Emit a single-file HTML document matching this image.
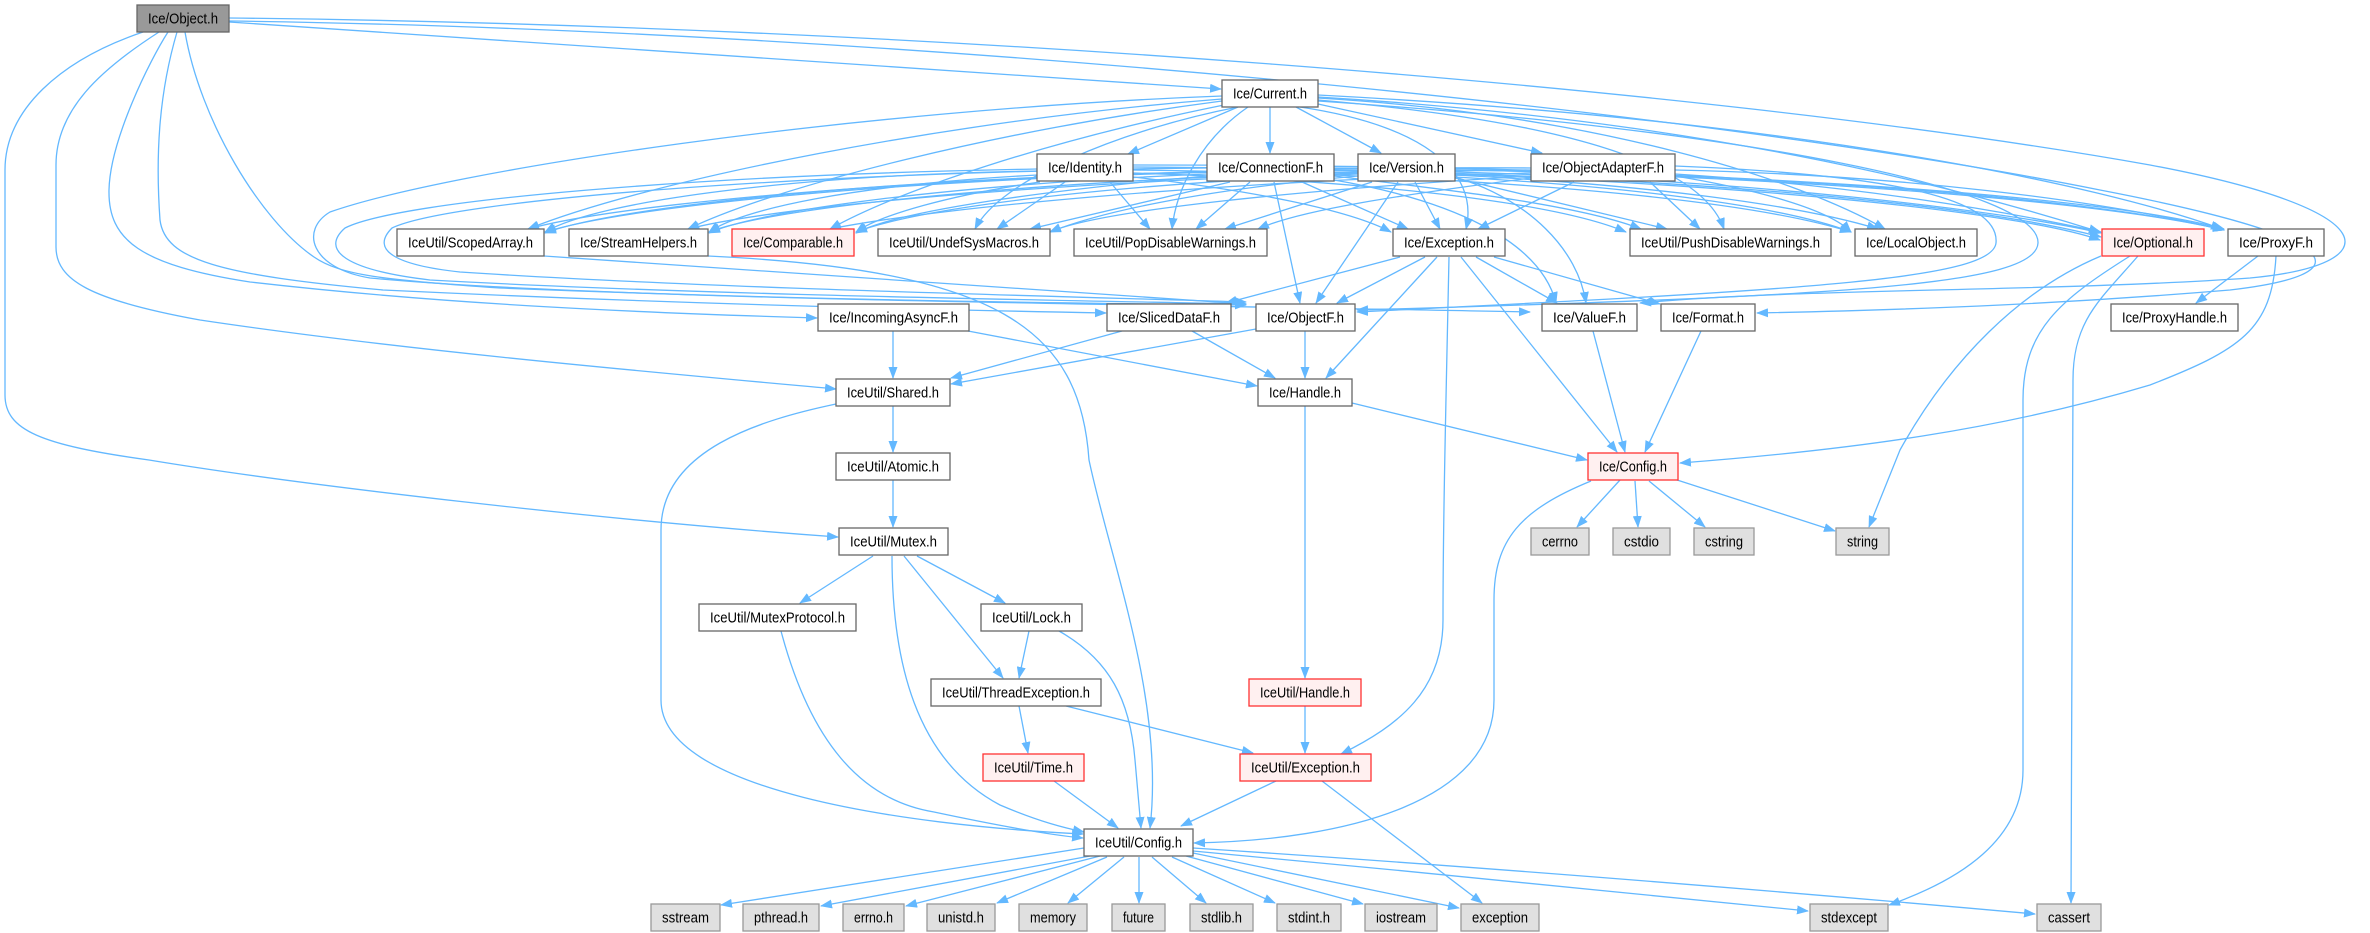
<!DOCTYPE html>
<html><head><meta charset="utf-8"><style>
html,body{margin:0;padding:0;background:#fff;}
svg{display:block;}
text{font-family:"Liberation Sans",Arial,sans-serif;font-size:14.5px;fill:#000;}
</style></head><body>
<svg width="2370" height="933" viewBox="0 0 2370 933" xmlns="http://www.w3.org/2000/svg">
<defs>
<marker id="a" markerWidth="12" markerHeight="9" refX="11" refY="4.5" orient="auto" markerUnits="userSpaceOnUse"><path d="M0,0 L12,4.5 L0,9 z" fill="#63b8ff"/></marker>
</defs>
<g fill="none" stroke="#63b8ff" stroke-width="1.3" marker-end="url(#a)">
<!-- Object.h -->
<path d="M229,22 L1221,89"/>
<path d="M229,18 C900,25 1700,85 2150,165 C2390,210 2390,265 2250,278 C2050,292 1800,288 1640,303"/>
<path d="M229,21 C900,30 1700,110 2100,190 C2360,240 2360,275 2230,290 C2050,305 1900,310 1757,313"/>
<path d="M143,32 C60,60 5,110 5,170 L5,395 C5,430 40,445 149,460 C300,485 600,520 838,537"/>
<path d="M159,32 C100,70 56,110 56,165 L56,247 C56,280 90,300 200,320 C400,350 650,372 836,389"/>
<path d="M168,32 C150,60 110,140 109,190 C108,240 140,265 250,282 C450,305 650,313 817,318"/>
<path d="M177,32 C160,90 155,150 160,220 C165,260 220,275 383,290 C700,305 950,310 1106,313"/>
<path d="M185,32 C200,120 260,220 314,257 C340,275 383,280 500,288 C800,300 1050,303 1246,305"/>
<!-- loops -->
<path d="M1222,96 C850,110 450,170 330,212 C300,230 310,268 370,278 C600,300 1200,305 1530,312"/>
<path d="M1037,169 C700,175 400,200 345,228 C320,250 345,270 430,280 C700,295 1050,300 1246,304"/>
<path d="M1207,168 C800,172 450,200 392,228 C370,250 395,265 460,272 C700,288 1050,296 1246,302"/>
<path d="M1675,166 C1900,175 2000,200 1996,243 C1992,280 1800,290 1357,312"/>
<path d="M1318,101 C1750,130 2040,190 2038,243 C2036,285 1850,296 1357,310"/>
<!-- Current.h -->
<path d="M1222,99 C950,120 650,180 528,229"/>
<path d="M1222,101 C1000,130 780,185 688,229"/>
<path d="M1224,105 C1050,140 900,190 830,229"/>
<path d="M1238,107 C1120,130 1000,180 975,229"/>
<path d="M1248,107 C1200,140 1176,190 1172,229"/>
<path d="M1238,107 L1128,154"/>
<path d="M1270,107 L1270,153"/>
<path d="M1296,107 L1381,153"/>
<path d="M1318,104 L1542,153"/>
<path d="M1300,107 C1420,125 1480,170 1466,229"/>
<path d="M1318,100 C1550,120 1700,160 1724,229"/>
<path d="M1318,98 C1600,115 1800,180 1885,229"/>
<path d="M1318,97 C1700,120 1950,185 2100,232"/>
<path d="M1318,95 C1800,120 2100,185 2222,229"/>
<!-- Identity.h -->
<path d="M1037,171 C800,175 600,200 545,232"/>
<path d="M1037,175 C850,185 740,210 709,232"/>
<path d="M1040,182 C950,195 880,215 856,232"/>
<path d="M1065,182 L997,229"/>
<path d="M1110,182 L1150,229"/>
<path d="M1133,177 C1250,190 1350,210 1391,232"/>
<path d="M1133,173 C1350,180 1550,200 1626,232"/>
<path d="M1133,170 C1500,175 1750,200 1851,232"/>
<path d="M1133,167 C1600,170 2000,205 2100,240"/>
<path d="M1133,165 C1700,165 2100,195 2224,229"/>
<!-- ConnectionF.h -->
<path d="M1207,172 C900,178 620,205 545,233"/>
<path d="M1207,174 C950,185 760,210 709,233"/>
<path d="M1207,176 C1050,190 900,210 856,233"/>
<path d="M1230,182 L1030,229"/>
<path d="M1250,182 L1196,229"/>
<path d="M1302,182 L1408,229"/>
<path d="M1274,182 L1300,303"/>
<path d="M1334,180 C1450,200 1540,240 1556,303"/>
<path d="M1334,176 C1450,190 1580,205 1641,229"/>
<path d="M1334,172 C1600,180 1780,205 1851,232"/>
<path d="M1334,170 C1700,178 1980,205 2101,237"/>
<path d="M1334,168 C1750,172 2100,200 2224,230"/>
<!-- Version.h -->
<path d="M1358,170 C1000,172 650,200 545,232"/>
<path d="M1358,172 C1050,180 780,205 709,232"/>
<path d="M1358,174 C1100,185 920,208 856,232"/>
<path d="M1358,176 C1200,190 1100,212 1050,232"/>
<path d="M1372,182 L1225,229"/>
<path d="M1415,182 L1440,229"/>
<path d="M1398,182 L1316,303"/>
<path d="M1455,177 C1530,200 1578,250 1586,303"/>
<path d="M1455,178 L1667,229"/>
<path d="M1455,175 C1650,185 1800,205 1878,229"/>
<path d="M1455,172 C1750,180 2000,210 2101,233"/>
<path d="M1455,170 C1800,175 2100,200 2224,230"/>
<!-- ObjectAdapterF.h -->
<path d="M1531,168 C1100,165 650,195 528,229"/>
<path d="M1531,170 C1200,172 800,200 688,229"/>
<path d="M1531,173 C1250,180 950,205 830,229"/>
<path d="M1531,176 C1300,190 1100,210 1050,232"/>
<path d="M1531,178 C1400,195 1300,210 1258,229"/>
<path d="M1574,182 L1478,229"/>
<path d="M1650,182 L1700,229"/>
<path d="M1675,176 C1760,190 1830,210 1851,232"/>
<path d="M1675,174 C1850,185 2000,210 2101,232"/>
<path d="M1675,170 C1900,175 2100,200 2224,230"/>
<!-- Exception.h -->
<path d="M1400,257 L1226,303"/>
<path d="M1425,257 L1337,303"/>
<path d="M1437,257 L1326,378"/>
<path d="M1476,257 L1557,303"/>
<path d="M1494,257 L1660,304"/>
<path d="M1461,257 L1617,452"/>
<path d="M1449,257 C1446,400 1443,520 1443,620 C1443,690 1400,725 1341,754"/>
<!-- misc -->
<path d="M544,256 C800,272 1050,292 1246,304"/>
<path d="M708,256 C1000,270 1080,330 1089,460 C1110,560 1165,700 1150,828"/>
<path d="M893,331 L893,378"/>
<path d="M968,331 L1257,386"/>
<path d="M1122,331 L951,378"/>
<path d="M1192,331 L1275,378"/>
<path d="M1256,329 L951,384"/>
<path d="M1305,331 L1305,378"/>
<path d="M1593,331 L1625,452"/>
<path d="M1701,331 L1645,452"/>
<path d="M2258,256 L2196,303"/>
<path d="M2276,256 C2272,330 2240,350 2150,385 C2000,430 1850,450 1680,463"/>
<path d="M2101,256 C2020,290 1950,360 1900,450 L1869,527"/>
<path d="M2130,256 C2060,300 2023,330 2023,400 L2023,770 C2023,840 1960,880 1889,905"/>
<path d="M2138,256 C2100,300 2073,320 2073,380 L2071,903"/>
<path d="M1352,403 L1587,460"/>
<path d="M1305,405 L1305,678"/>
<path d="M893,405 L893,452"/>
<path d="M836,404 C760,420 661,450 661,530 L661,700 C661,790 900,825 1083,834"/>
<path d="M893,480 L893,527"/>
<path d="M1620,480 L1577,527"/>
<path d="M1635,481 L1638,527"/>
<path d="M1649,481 L1705,527"/>
<path d="M1674,479 L1835,531"/>
<path d="M1591,481 C1520,510 1494,540 1494,600 L1494,700 C1494,800 1350,840 1194,843"/>
<path d="M873,556 L800,603"/>
<path d="M917,556 L1005,603"/>
<path d="M904,556 L1003,678"/>
<path d="M892,556 C892,660 915,760 1000,805 C1040,822 1065,828 1084,832"/>
<path d="M781,631 C810,740 860,800 934,812 C1000,826 1050,835 1083,838"/>
<path d="M1029,631 L1019,678"/>
<path d="M1059,631 C1110,660 1130,700 1135,760 L1141,828"/>
<path d="M1019,706 L1028,753"/>
<path d="M1066,706 L1253,753"/>
<path d="M1054,781 L1118,828"/>
<path d="M1305,706 L1305,753"/>
<path d="M1276,781 L1181,826"/>
<path d="M1322,781 L1482,903"/>
<path d="M1084,848 L721,905"/>
<path d="M1090,856 L821,906"/>
<path d="M1100,856 L906,906"/>
<path d="M1107,857 L997,903"/>
<path d="M1124,857 L1068,903"/>
<path d="M1139,857 L1139,903"/>
<path d="M1152,857 L1206,903"/>
<path d="M1172,857 L1275,903"/>
<path d="M1186,856 L1363,904"/>
<path d="M1193,853 L1459,908"/>
<path d="M1193,851 C1400,870 1650,895 1808,911"/>
<path d="M1193,848 C1500,868 1800,893 2035,914"/>
</g>
<!-- nodes -->
<g stroke-width="1.3">
<rect x="137" y="5" width="92" height="27" fill="#999999" stroke="#666666"/>
<g fill="#ffffff" stroke="#666666">
<rect x="1222" y="80" width="96" height="27"/>
<rect x="1037" y="154" width="96" height="27"/>
<rect x="1207" y="154" width="127" height="27"/>
<rect x="1358" y="154" width="97" height="27"/>
<rect x="1531" y="154" width="144" height="27"/>
<rect x="397" y="229" width="147" height="27"/>
<rect x="569" y="229" width="139" height="27"/>
<rect x="878" y="229" width="172" height="27"/>
<rect x="1074" y="229" width="193" height="27"/>
<rect x="1393" y="229" width="112" height="27"/>
<rect x="1630" y="229" width="201" height="27"/>
<rect x="1855" y="229" width="122" height="27"/>
<rect x="2228" y="229" width="96" height="27"/>
<rect x="818" y="304" width="151" height="27"/>
<rect x="1107" y="304" width="124" height="27"/>
<rect x="1256" y="304" width="99" height="27"/>
<rect x="1542" y="304" width="95" height="27"/>
<rect x="1661" y="304" width="94" height="27"/>
<rect x="2111" y="304" width="127" height="27"/>
<rect x="836" y="379" width="114" height="27"/>
<rect x="1258" y="379" width="94" height="27"/>
<rect x="836" y="453" width="114" height="27"/>
<rect x="839" y="528" width="109" height="27"/>
<rect x="699" y="604" width="157" height="27"/>
<rect x="981" y="604" width="101" height="27"/>
<rect x="931" y="679" width="170" height="27"/>
<rect x="1084" y="829" width="109" height="27"/>
</g>
<g fill="#fff0f0" stroke="#ff3333">
<rect x="732" y="229" width="122" height="27"/>
<rect x="2102" y="229" width="102" height="27"/>
<rect x="1588" y="453" width="90" height="27"/>
<rect x="1249" y="679" width="112" height="27"/>
<rect x="983" y="754" width="101" height="27"/>
<rect x="1240" y="754" width="131" height="27"/>
</g>
<g fill="#e0e0e0" stroke="#999999">
<rect x="1531" y="528" width="58" height="27"/>
<rect x="1613" y="528" width="57" height="27"/>
<rect x="1694" y="528" width="60" height="27"/>
<rect x="1836" y="528" width="53" height="27"/>
<rect x="651" y="904" width="69" height="27"/>
<rect x="743" y="904" width="76" height="27"/>
<rect x="843" y="904" width="61" height="27"/>
<rect x="927" y="904" width="68" height="27"/>
<rect x="1019" y="904" width="68" height="27"/>
<rect x="1112" y="904" width="53" height="27"/>
<rect x="1190" y="904" width="63" height="27"/>
<rect x="1277" y="904" width="64" height="27"/>
<rect x="1365" y="904" width="72" height="27"/>
<rect x="1461" y="904" width="78" height="27"/>
<rect x="1810" y="904" width="78" height="27"/>
<rect x="2037" y="904" width="64" height="27"/>
</g>
</g>
<g text-anchor="middle">
<text x="183" y="23.5" textLength="70" lengthAdjust="spacingAndGlyphs">Ice/Object.h</text>
<text x="1270" y="98.5" textLength="74" lengthAdjust="spacingAndGlyphs">Ice/Current.h</text>
<text x="1085" y="172.5" textLength="74" lengthAdjust="spacingAndGlyphs">Ice/Identity.h</text>
<text x="1270.5" y="172.5" textLength="105" lengthAdjust="spacingAndGlyphs">Ice/ConnectionF.h</text>
<text x="1406.5" y="172.5" textLength="75" lengthAdjust="spacingAndGlyphs">Ice/Version.h</text>
<text x="1603" y="172.5" textLength="122" lengthAdjust="spacingAndGlyphs">Ice/ObjectAdapterF.h</text>
<text x="470.5" y="247.5" textLength="125" lengthAdjust="spacingAndGlyphs">IceUtil/ScopedArray.h</text>
<text x="638.5" y="247.5" textLength="117" lengthAdjust="spacingAndGlyphs">Ice/StreamHelpers.h</text>
<text x="793" y="247.5" textLength="100" lengthAdjust="spacingAndGlyphs">Ice/Comparable.h</text>
<text x="964" y="247.5" textLength="150" lengthAdjust="spacingAndGlyphs">IceUtil/UndefSysMacros.h</text>
<text x="1170.5" y="247.5" textLength="171" lengthAdjust="spacingAndGlyphs">IceUtil/PopDisableWarnings.h</text>
<text x="1449" y="247.5" textLength="90" lengthAdjust="spacingAndGlyphs">Ice/Exception.h</text>
<text x="1730.5" y="247.5" textLength="179" lengthAdjust="spacingAndGlyphs">IceUtil/PushDisableWarnings.h</text>
<text x="1916" y="247.5" textLength="100" lengthAdjust="spacingAndGlyphs">Ice/LocalObject.h</text>
<text x="2153" y="247.5" textLength="80" lengthAdjust="spacingAndGlyphs">Ice/Optional.h</text>
<text x="2276" y="247.5" textLength="74" lengthAdjust="spacingAndGlyphs">Ice/ProxyF.h</text>
<text x="893.5" y="322.5" textLength="129" lengthAdjust="spacingAndGlyphs">Ice/IncomingAsyncF.h</text>
<text x="1169" y="322.5" textLength="102" lengthAdjust="spacingAndGlyphs">Ice/SlicedDataF.h</text>
<text x="1305.5" y="322.5" textLength="77" lengthAdjust="spacingAndGlyphs">Ice/ObjectF.h</text>
<text x="1589.5" y="322.5" textLength="73" lengthAdjust="spacingAndGlyphs">Ice/ValueF.h</text>
<text x="1708" y="322.5" textLength="72" lengthAdjust="spacingAndGlyphs">Ice/Format.h</text>
<text x="2174.5" y="322.5" textLength="105" lengthAdjust="spacingAndGlyphs">Ice/ProxyHandle.h</text>
<text x="893" y="397.5" textLength="92" lengthAdjust="spacingAndGlyphs">IceUtil/Shared.h</text>
<text x="1305" y="397.5" textLength="72" lengthAdjust="spacingAndGlyphs">Ice/Handle.h</text>
<text x="893" y="471.5" textLength="92" lengthAdjust="spacingAndGlyphs">IceUtil/Atomic.h</text>
<text x="1633" y="471.5" textLength="68" lengthAdjust="spacingAndGlyphs">Ice/Config.h</text>
<text x="893.5" y="546.5" textLength="87" lengthAdjust="spacingAndGlyphs">IceUtil/Mutex.h</text>
<text x="1560" y="546.5" textLength="36" lengthAdjust="spacingAndGlyphs">cerrno</text>
<text x="1641.5" y="546.5" textLength="35" lengthAdjust="spacingAndGlyphs">cstdio</text>
<text x="1724" y="546.5" textLength="38" lengthAdjust="spacingAndGlyphs">cstring</text>
<text x="1862.5" y="546.5" textLength="31" lengthAdjust="spacingAndGlyphs">string</text>
<text x="777.5" y="622.5" textLength="135" lengthAdjust="spacingAndGlyphs">IceUtil/MutexProtocol.h</text>
<text x="1031.5" y="622.5" textLength="79" lengthAdjust="spacingAndGlyphs">IceUtil/Lock.h</text>
<text x="1016" y="697.5" textLength="148" lengthAdjust="spacingAndGlyphs">IceUtil/ThreadException.h</text>
<text x="1305" y="697.5" textLength="90" lengthAdjust="spacingAndGlyphs">IceUtil/Handle.h</text>
<text x="1033.5" y="772.5" textLength="79" lengthAdjust="spacingAndGlyphs">IceUtil/Time.h</text>
<text x="1305.5" y="772.5" textLength="109" lengthAdjust="spacingAndGlyphs">IceUtil/Exception.h</text>
<text x="1138.5" y="847.5" textLength="87" lengthAdjust="spacingAndGlyphs">IceUtil/Config.h</text>
<text x="685.5" y="922.5" textLength="47" lengthAdjust="spacingAndGlyphs">sstream</text>
<text x="781" y="922.5" textLength="54" lengthAdjust="spacingAndGlyphs">pthread.h</text>
<text x="873.5" y="922.5" textLength="39" lengthAdjust="spacingAndGlyphs">errno.h</text>
<text x="961" y="922.5" textLength="46" lengthAdjust="spacingAndGlyphs">unistd.h</text>
<text x="1053" y="922.5" textLength="46" lengthAdjust="spacingAndGlyphs">memory</text>
<text x="1138.5" y="922.5" textLength="31" lengthAdjust="spacingAndGlyphs">future</text>
<text x="1221.5" y="922.5" textLength="41" lengthAdjust="spacingAndGlyphs">stdlib.h</text>
<text x="1309" y="922.5" textLength="42" lengthAdjust="spacingAndGlyphs">stdint.h</text>
<text x="1401" y="922.5" textLength="50" lengthAdjust="spacingAndGlyphs">iostream</text>
<text x="1500" y="922.5" textLength="56" lengthAdjust="spacingAndGlyphs">exception</text>
<text x="1849" y="922.5" textLength="56" lengthAdjust="spacingAndGlyphs">stdexcept</text>
<text x="2069" y="922.5" textLength="42" lengthAdjust="spacingAndGlyphs">cassert</text>
</g>
</svg>
</body></html>
